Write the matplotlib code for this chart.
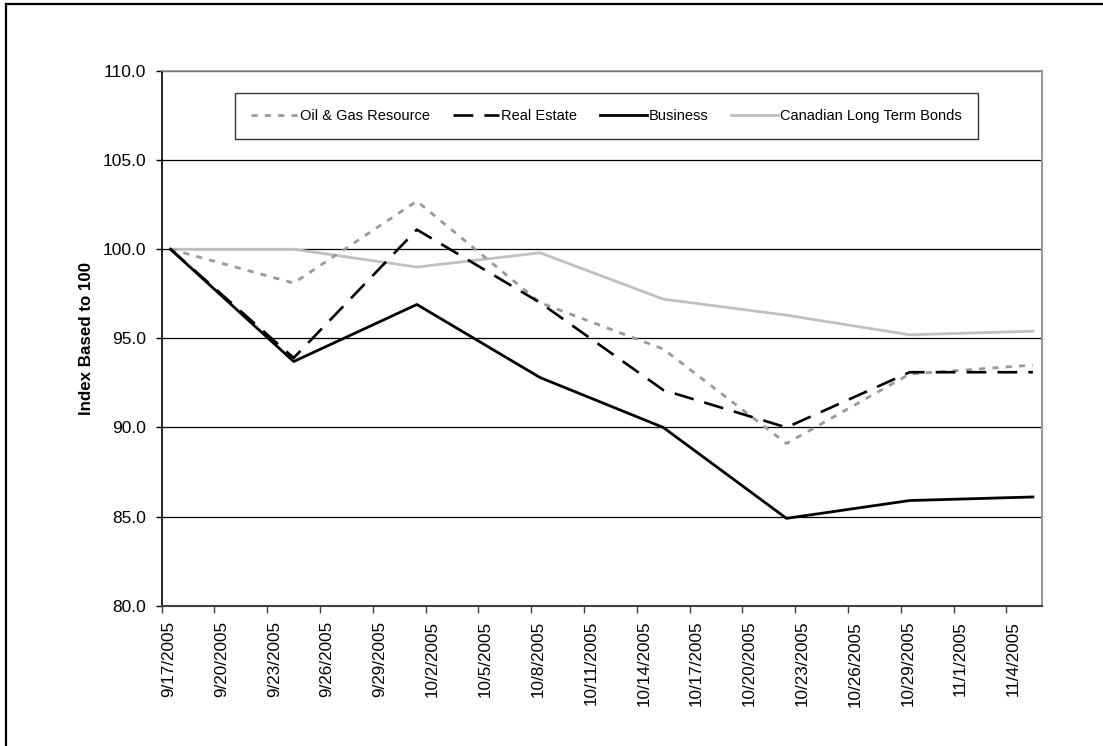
import datetime as dt
import matplotlib
matplotlib.use("Agg")
import matplotlib.pyplot as plt
import matplotlib.dates as mdates
import matplotlib.transforms as mtransforms
from matplotlib.lines import Line2D

plt.rcParams['font.family'] = ['Liberation Sans', 'DejaVu Sans']

# weekly observations, index based to 100
dates = [dt.date(2005, 9, 17), dt.date(2005, 9, 24), dt.date(2005, 10, 1),
         dt.date(2005, 10, 8), dt.date(2005, 10, 15), dt.date(2005, 10, 22),
         dt.date(2005, 10, 29), dt.date(2005, 11, 5)]
oil_gas = [100.0, 98.1, 102.7, 97.0, 94.4, 89.1, 93.0, 93.5]
real_estate = [100.0, 93.9, 101.1, 97.0, 92.1, 90.0, 93.1, 93.1]
business = [100.0, 93.7, 96.9, 92.8, 90.0, 84.9, 85.9, 86.1]
bonds = [100.0, 100.0, 99.0, 99.8, 97.2, 96.3, 95.2, 95.4]

series_names = ["Oil & Gas Resource", "Real Estate", "Business",
                "Canadian Long Term Bonds"]

# axis range and tick dates
x_start = dt.date(2005, 9, 17)
x_end = dt.date(2005, 11, 6)
tick_dates = [x_start + dt.timedelta(days=3 * k) for k in range(17)]
y_ticks = [80, 85, 90, 95, 100, 105, 110]

fig = plt.figure(figsize=(11.03, 7.46), dpi=100)
ax = fig.add_axes([0.1466, 0.1881, 0.7978, 0.7167])

# Excel date axis puts each point in the middle of its day
x = [mdates.date2num(d) + 0.5 for d in dates]

ax.plot(x, oil_gas, color="#999999", lw=2.0, linestyle=(0, (2.2, 2.6)),
        dash_capstyle="butt", label=series_names[0], zorder=3)
ax.plot(x, real_estate, color="black", lw=1.9, linestyle=(0, (7.5, 4.2)),
        label=series_names[1], zorder=4)
ax.plot(x, business, color="black", lw=2.0, label=series_names[2], zorder=5)
ax.plot(x, bonds, color="#c0c0c0", lw=2.0, label=series_names[3], zorder=2)

ax.set_xlim(mdates.date2num(x_start), mdates.date2num(x_end))
ax.set_ylim(80, 110)
ax.set_yticks(y_ticks)
ax.set_yticklabels([f"{v:.1f}" for v in y_ticks])
ax.set_xticks([mdates.date2num(d) for d in tick_dates])
ax.set_xticklabels([f"{d.month}/{d.day}/{d.year}" for d in tick_dates],
                   rotation=90)

ax.tick_params(axis="y", direction="out", length=4, width=1, pad=7,
               labelsize=12.5, color="black")
ax.tick_params(axis="x", direction="out", length=5, width=1, pad=6,
               labelsize=12.3, color="#404040")

# shift rotated labels a bit to the right like the original
offset = mtransforms.ScaledTranslation(0.07, 0, fig.dpi_scale_trans)
for lbl in ax.get_xticklabels():
    lbl.set_transform(lbl.get_transform() + offset)

ax.yaxis.grid(True, color="black", lw=0.9)
ax.set_axisbelow(True)

ax.spines["left"].set_color("black")
ax.spines["left"].set_linewidth(1.2)
ax.spines["bottom"].set_color("#404040")
ax.spines["bottom"].set_linewidth(1.5)
ax.spines["top"].set_color("#909090")
ax.spines["top"].set_linewidth(1.2)
ax.spines["right"].set_color("#999999")
ax.spines["right"].set_linewidth(1.5)

ax.set_ylabel("Index Based to 100", fontsize=12.2, fontweight="bold")
ax.yaxis.set_label_coords(-0.077, 0.5)

leg = ax.legend(loc="center", bbox_to_anchor=(0.5499, 0.8448),
                bbox_transform=fig.transFigure, ncol=4, fontsize=10.5,
                frameon=True, fancybox=False, shadow=False,
                handlelength=3.2, handletextpad=0.15, columnspacing=1.55,
                borderpad=1.1, borderaxespad=0)
leg.get_frame().set_edgecolor("black")
leg.get_frame().set_linewidth(1.0)

# outer frame: only top and left edges show
fig.add_artist(Line2D([6 / 1103, 1.0], [1 - 3.5 / 746, 1 - 3.5 / 746],
                      transform=fig.transFigure, color="black", lw=1.6))
fig.add_artist(Line2D([6 / 1103, 6 / 1103], [0.0, 1 - 3.5 / 746],
                      transform=fig.transFigure, color="black", lw=1.6))

fig.savefig("out.png", dpi=100)
